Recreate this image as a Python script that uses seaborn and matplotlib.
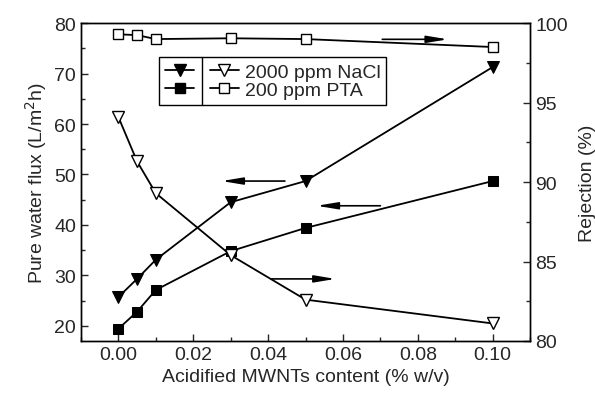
import matplotlib
matplotlib.use("Agg")
import matplotlib.pyplot as plt
from matplotlib.ticker import MultipleLocator
from matplotlib.lines import Line2D
import seaborn as sns
import pandas as pd

# data
content = [0.0, 0.005, 0.01, 0.03, 0.05, 0.10]
flux_nacl = [25.7, 29.3, 33.1, 44.5, 48.7, 71.3]
flux_pta = [19.4, 22.8, 27.1, 34.8, 39.4, 48.7]
rej_nacl = [94.1, 91.3, 89.3, 85.4, 82.6, 81.1]
rej_pta = [99.3, 99.25, 99.0, 99.05, 99.0, 98.5]
legend_labels = ["2000 ppm NaCl", "200 ppm PTA"]

sns.set_style("ticks")
plt.rcParams["font.family"] = ["Liberation Sans", "DejaVu Sans"]
fs = 14
plt.rcParams["font.size"] = fs
plt.rcParams["xtick.direction"] = "in"
plt.rcParams["ytick.direction"] = "in"

df = pd.DataFrame({"x": content, "fn": flux_nacl, "fp": flux_pta,
                   "rn": rej_nacl, "rp": rej_pta})

fig, ax = plt.subplots(figsize=(5.95, 4.10), dpi=100)
fig.subplots_adjust(left=0.136, right=0.891, top=0.941, bottom=0.166)
ax2 = ax.twinx()

ms = 9
sns.lineplot(data=df, x="x", y="fn", ax=ax, color="black", lw=1.3,
             marker="v", markersize=ms, markeredgecolor="black", legend=False)
sns.lineplot(data=df, x="x", y="fp", ax=ax, color="black", lw=1.3,
             marker="s", markersize=ms - 1.5, markeredgecolor="black", legend=False)
sns.lineplot(data=df, x="x", y="rn", ax=ax2, color="black", lw=1.3,
             marker="v", markersize=ms, markerfacecolor="white",
             markeredgecolor="black", markeredgewidth=1.0, legend=False)
sns.lineplot(data=df, x="x", y="rp", ax=ax2, color="black", lw=1.3,
             marker="s", markersize=ms - 1.5, markerfacecolor="white",
             markeredgecolor="black", markeredgewidth=1.0, legend=False)

ax.set_xlim(-0.01, 0.11)
ax.set_ylim(17, 80)
ax2.set_ylim(80, 100)
ax.xaxis.set_major_locator(MultipleLocator(0.02))
ax.xaxis.set_minor_locator(MultipleLocator(0.01))
ax.yaxis.set_major_locator(MultipleLocator(10))
ax.yaxis.set_minor_locator(MultipleLocator(5))
ax2.yaxis.set_major_locator(MultipleLocator(5))
ax2.yaxis.set_minor_locator(MultipleLocator(2.5))
ax.xaxis.set_major_formatter(plt.FuncFormatter(lambda v, p: f"{v:.2f}"))

for a in (ax, ax2):
    a.tick_params(which="major", length=5, width=1, labelsize=fs)
    a.tick_params(which="minor", length=3, width=1)
    for s in a.spines.values():
        s.set_visible(True)
        s.set_linewidth(1)
        s.set_color("black")

ax.set_xlabel("Acidified MWNTs content (% w/v)", fontsize=fs, labelpad=4)
ax.set_ylabel("Pure water flux (L/m$^2$h)", fontsize=fs)
ax2.set_ylabel("Rejection (%)", fontsize=fs, labelpad=8)

# arrows showing which axis each series belongs to
arrow = dict(arrowstyle="-|>,head_length=0.9,head_width=0.15", color="black",
             lw=1.2, shrinkA=0, shrinkB=0)
ax.annotate("", xy=(0.088, 76.8), xytext=(0.0705, 76.8), arrowprops=arrow)
ax.annotate("", xy=(0.0276, 48.7), xytext=(0.0445, 48.7), arrowprops=arrow)
ax.annotate("", xy=(0.053, 43.8), xytext=(0.070, 43.8), arrowprops=arrow)
ax.annotate("", xy=(0.058, 29.3), xytext=(0.041, 29.3), arrowprops=arrow)

# two-column legend: filled (flux) and open (rejection)
h = [
    Line2D([], [], color="black", marker="v", markersize=ms - 1, lw=1.3),
    Line2D([], [], color="black", marker="s", markersize=ms - 2, lw=1.3),
    Line2D([], [], color="black", marker="v", markersize=ms - 1, lw=1.3,
           markerfacecolor="white"),
    Line2D([], [], color="black", marker="s", markersize=ms - 2, lw=1.3,
           markerfacecolor="white"),
]
leg = ax2.legend(h, ["", "", legend_labels[0], legend_labels[1]], ncol=2,
                 loc="upper left", bbox_to_anchor=(0.174, 0.893),
                 borderaxespad=0, frameon=True, fancybox=False,
                 edgecolor="black", framealpha=1, handlelength=1.5,
                 handletextpad=0.3, columnspacing=0.5, labelspacing=0.05,
                 borderpad=0.3, fontsize=fs)
leg.get_frame().set_linewidth(1)

# divider between the two legend columns
fig.canvas.draw()
r = fig.canvas.get_renderer()
e0 = leg.legend_handles[0].get_window_extent(r)
e2 = leg.legend_handles[2].get_window_extent(r)
fb = leg.get_frame().get_window_extent(r)
inv = fig.transFigure.inverted()
xdiv = (e0.x1 + e2.x0) / 2
(x0, y0) = inv.transform((xdiv, fb.y0))
(x1, y1) = inv.transform((xdiv, fb.y1))
fig.add_artist(Line2D([x0, x1], [y0, y1], color="black", lw=1,
                      transform=fig.transFigure))

fig.savefig("out.png", dpi=100)
